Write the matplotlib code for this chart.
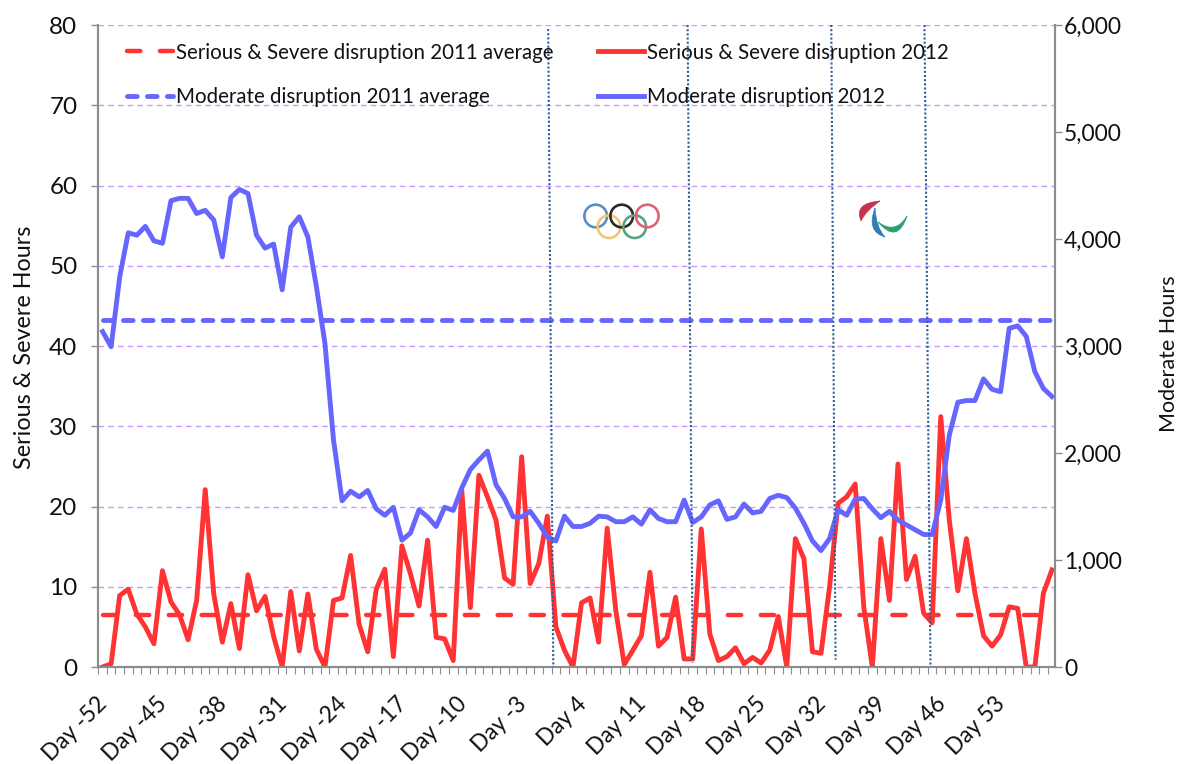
import matplotlib
matplotlib.use('Agg')
import matplotlib.pyplot as plt
from matplotlib.patches import Circle, PathPatch
from matplotlib.path import Path
from matplotlib.transforms import ScaledTranslation

plt.rcParams['font.family'] = ['Lato', 'DejaVu Sans']

# serious & severe hours, left axis
serious_2012 = [0, 0.4, 8.9, 9.7, 6.6, 5.0, 2.9, 12.0, 8.1, 6.5, 3.4, 8.3, 22.1, 9.1, 3.1, 7.9,
                2.3, 11.5, 7.0, 8.8, 3.8, 0, 9.4, 2.0, 9.1, 2.2, 0, 8.3, 8.6, 13.9, 5.3, 1.9,
                9.7, 12.2, 1.3, 15.1, 11.6, 7.6, 15.8, 3.7, 3.5, 0.8, 22.0, 7.4, 23.9, 21.2, 18.3, 11.1,
                10.3, 26.2, 10.4, 12.9, 18.8, 5.0, 2.1, 0, 8.0, 8.6, 3.1, 17.3, 7.1, 0.3, 2.1, 3.9,
                11.8, 2.6, 3.7, 8.7, 1.0, 1.0, 17.2, 4.1, 0.8, 1.3, 2.4, 0.4, 1.2, 0.5, 2.1, 6.3,
                0, 16.0, 13.5, 1.9, 1.7, 10.0, 20.4, 21.2, 22.8, 7.5, 0, 16.0, 8.3, 25.3, 10.9, 13.8,
                6.7, 5.5, 31.2, 18.3, 9.5, 16.0, 9.2, 3.9, 2.6, 4.0, 7.5, 7.3, 0, 0, 9.2, 12.1]

# moderate hours, right axis
moderate_2012 = [3135, 2993, 3645, 4058, 4035, 4118, 3983, 3960, 4358, 4380, 4380, 4238, 4268, 4178, 3833, 4388,
                 4463, 4425, 4035, 3915, 3953, 3525, 4110, 4208, 4020, 3555, 3023, 2123, 1553, 1643, 1590, 1650,
                 1478, 1418, 1493, 1185, 1253, 1470, 1403, 1313, 1493, 1463, 1673, 1845, 1935, 2018, 1703, 1575,
                 1403, 1403, 1455, 1343, 1215, 1178, 1410, 1313, 1313, 1343, 1410, 1403, 1358, 1358, 1403, 1335,
                 1470, 1388, 1358, 1358, 1560, 1350, 1403, 1515, 1553, 1380, 1403, 1523, 1440, 1455, 1575, 1605,
                 1583, 1485, 1343, 1178, 1088, 1200, 1470, 1418, 1568, 1575, 1478, 1395, 1455, 1373, 1328, 1283,
                 1238, 1238, 1560, 2168, 2475, 2490, 2490, 2693, 2595, 2573, 3165, 3188, 3090, 2760, 2603, 2528]

serious_avg_2011 = 6.5
moderate_avg_2011 = 3240

days = list(range(-52, 60))
label_step = 7

# the dotted event markers lean a little: category position at top and bottom
event_top = [52.1, 68.4, 85.2, 96.1]
event_bottom = [52.7, 69.0, 85.7, 96.8]
event_top_val = [79.5, 80, 80, 80]
event_bottom_val = [-0.1, 0.5, 0.9, 0.2]

red = '#FF3333'
blue = '#6666FF'
grey = '#8C8C8C'

fig = plt.figure(figsize=(11.82, 7.64), dpi=100)
ax = fig.add_axes([98.3 / 1182, 1 - 667 / 764, 956.2 / 1182, 642 / 764])
ax2 = ax.twinx()

xs = list(range(len(days)))

l2, = ax.plot(xs, serious_2012, color=red, lw=3.5, solid_joinstyle='round',
              label='Serious & Severe disruption 2012')
l1, = ax.plot(xs, [serious_avg_2011] * len(xs), color=red, lw=3.2, dashes=(3.0, 4.4),
              dash_capstyle='round', label='Serious & Severe disruption 2011 average')
l3, = ax2.plot(xs, [moderate_avg_2011] * len(xs), color=blue, lw=3.5, dashes=(2.0, 2.1),
               dash_capstyle='round', label='Moderate disruption 2011 average')
l4, = ax2.plot(xs, moderate_2012, color=blue, lw=3.5, solid_joinstyle='round',
               label='Moderate disruption 2012')

for i in range(len(event_top)):
    ax2.plot([event_top[i], event_bottom[i]], [event_top_val[i], event_bottom_val[i]],
             transform=ax.transData, color='#2E5C99', lw=1.5, ls=(0, (1, 1)), zorder=5)

ax.set_xlim(-0.5, len(days) - 0.7)
ax.set_ylim(0, 80)
ax2.set_ylim(0, 6000)
ax.set_yticks(range(0, 81, 10))
ax2.set_yticks(range(0, 6001, 1000))
ax2.set_yticklabels(['{:,}'.format(v) for v in range(0, 6001, 1000)])

ax.yaxis.grid(True, color='#CC99FF', lw=1.0, ls=(0, (4, 3)))
ax.set_axisbelow(True)

tick_pos = xs[::label_step]
ax.set_xticks(tick_pos)
ax.set_xticklabels(['Day %d' % days[i] for i in tick_pos], rotation=45, ha='right',
                   rotation_mode='anchor', fontsize=16.3, color='#111111')
ax.set_xticks([x - 0.5 for x in xs], minor=True)
ax.tick_params(axis='x', which='major', length=0, pad=19)
ax.tick_params(axis='x', which='minor', length=5, width=0.8, color=grey)
ax.tick_params(axis='y', length=5, width=1, color=grey, labelsize=17.5, pad=10, labelcolor='#111111')
ax2.tick_params(axis='y', length=5, width=1, color=grey, labelsize=16.5, pad=2, labelcolor='#111111')

shift = ScaledTranslation(-6 / 100, 0, fig.dpi_scale_trans)
for t in ax.get_xticklabels():
    t.set_transform(t.get_transform() + shift)

for a in (ax, ax2):
    a.spines['top'].set_visible(False)
    for s in ('left', 'right', 'bottom'):
        a.spines[s].set_color(grey)
        a.spines[s].set_linewidth(1.5)

ax.set_ylabel('Serious & Severe Hours', fontsize=16.8, color='#111111')
ax.yaxis.set_label_coords(-0.0662, 0.4985)
ax2.set_ylabel('Moderate Hours', fontsize=15.5, color='#111111')
ax2.yaxis.set_label_coords(1.109, 0.4875)

leg = ax2.legend(handles=[l1, l3, l2, l4], ncol=2, frameon=False, fontsize=14.8,
                 loc='upper left', bbox_to_anchor=(0.03, 0.9725), borderaxespad=0,
                 borderpad=0, handlelength=2.24, handletextpad=0.15, columnspacing=2.14,
                 labelspacing=1.18, labelcolor='#111111')
leg.set_zorder(6)

# logos, drawn on an overlay in picture pixels
overlay = fig.add_axes([0, 0, 1, 1], facecolor='none')
overlay.set_xlim(0, 1182)
overlay.set_ylim(764, 0)
overlay.axis('off')

rings = [(595.7, 216, '#5B8FC0'), (609, 226.7, '#EFC777'), (621.7, 216, '#2A2A2A'),
         (634.7, 226.7, '#5BA37A'), (647.3, 216, '#E0607A')]
for cx, cy, c in rings:
    overlay.add_patch(Circle((cx, cy), 11.3, fill=False, ec=c, lw=1.9))

agitos = [('#C4344F', (880, 201), (853.5, 203), (861, 221), (865.5, 211)),
          ('#2F7FB5', (875, 208), (866, 231.5), (885, 237), (876, 227.5)),
          ('#2E9E6B', (907, 216), (897.5, 245), (878, 222), (895.5, 235))]
for c, p0, ctrl_out, p1, ctrl_in in agitos:
    verts = [p0, ctrl_out, p1, ctrl_in, p0]
    codes = [Path.MOVETO, Path.CURVE3, Path.CURVE3, Path.CURVE3, Path.CURVE3]
    overlay.add_patch(PathPatch(Path(verts, codes), fc=c, ec=c, lw=0.5))

fig.savefig('out.png', dpi=100)
